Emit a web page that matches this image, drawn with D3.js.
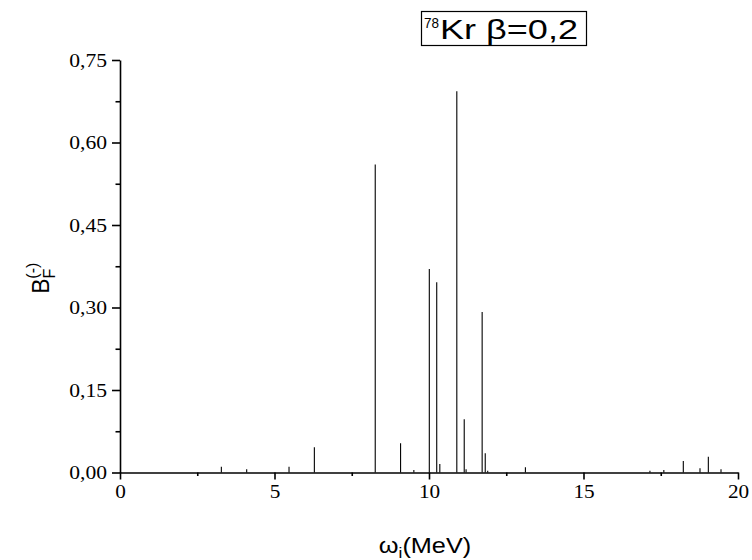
<!DOCTYPE html>
<meta charset="utf-8">
<style>
body { margin: 0; background: #fff; }
svg { display: block; }
.axis path, .axis line { stroke: #000; stroke-width: 1.6px; }
.axis text { font-family: "Liberation Serif", "Times New Roman", serif; font-size: 18px; fill: #000; }
.peak { stroke: #000; stroke-width: 1.1px; }
.lbl { font-family: "Liberation Sans", Arial, sans-serif; fill: #000; }
</style>
<svg width="752" height="560"></svg>
<script src="https://d3js.org/d3.v7.min.js"></script>
<script>

// peak positions (MeV) and strengths
var energies = [3.28, 4.10, 5.47, 6.29, 8.26, 9.08, 9.51, 10.01, 10.25, 10.35, 10.90, 11.14, 11.20,
                11.72, 11.82, 11.90, 13.12, 17.15, 17.60, 18.23, 18.77, 19.04, 19.45];
var strengths = [0.0105, 0.006, 0.0105, 0.046, 0.560, 0.053, 0.0045, 0.370, 0.346, 0.0155, 0.693, 0.097, 0.006,
                 0.292, 0.035, 0.003, 0.0095, 0.003, 0.0045, 0.021, 0.0076, 0.0287, 0.006];
var xTicks = [0, 5, 10, 15, 20];
var xMinor = [2.5, 7.5, 12.5, 17.5];
var yTicks = [0, 0.15, 0.30, 0.45, 0.60, 0.75];
var yMinor = [0.075, 0.225, 0.375, 0.525, 0.675];

var svg = d3.select("svg");
var pl = 120, pr = 738, pt = 60, pb = 472.5;

var x = d3.scaleLinear().domain([0, 20]).range([pl, pr]);
var y = d3.scaleLinear().domain([0, 0.75]).range([pb, pt]);
var fmt = function(d) { return d3.format(".2f")(d).replace(".", ","); };

// minor ticks first so the main axes draw over them
svg.append("g").attr("class", "axis")
    .attr("transform", "translate(0," + pb + ")")
    .call(d3.axisBottom(x).tickValues(xMinor).tickSize(3.5).tickFormat(""))
    .select(".domain").remove();
svg.append("g").attr("class", "axis")
    .attr("transform", "translate(" + pl + ",0)")
    .call(d3.axisLeft(y).tickValues(yMinor).tickSize(4.5).tickFormat(""))
    .select(".domain").remove();

var gx = svg.append("g").attr("class", "axis")
    .attr("transform", "translate(0," + pb + ")")
    .call(d3.axisBottom(x).tickValues(xTicks).tickSize(7).tickSizeOuter(0).tickFormat(d3.format("d")));
gx.selectAll("text").attr("y", 0).attr("dy", 0)
    .attr("transform", "translate(0,25) scale(1.18,1)");

var gy = svg.append("g").attr("class", "axis")
    .attr("transform", "translate(" + pl + ",0)")
    .call(d3.axisLeft(y).tickValues(yTicks).tickSize(8).tickSizeOuter(0).tickFormat(fmt));
gy.selectAll("text").attr("x", 0).attr("dy", "0.34em")
    .attr("transform", "translate(-13,0) scale(1.2,1)");

// peaks
svg.append("g").selectAll("line")
    .data(energies)
    .enter().append("line")
      .attr("class", "peak")
      .attr("x1", function(d) { return x(d); })
      .attr("x2", function(d) { return x(d); })
      .attr("y1", y(0))
      .attr("y2", function(d, i) { return y(strengths[i]); });

// x label
var xl = svg.append("text").attr("class", "lbl")
    .attr("text-anchor", "middle")
    .attr("transform", "translate(" + ((pl + pr) / 2 - 4) + ",553) scale(1.15,1)")
    .style("font-size", "22px");
xl.append("tspan").text("ω");
xl.append("tspan").attr("dy", 5).style("font-size", "15px").text("i");
xl.append("tspan").attr("dy", -5).text("(MeV)");

// y label
var yl = svg.append("text").attr("class", "lbl")
    .attr("text-anchor", "middle")
    .attr("transform", "translate(49," + ((pt + pb) / 2 + 12) + ") rotate(-90)")
    .style("font-size", "23px");
yl.append("tspan").text("B");
yl.append("tspan").attr("dy", 6).style("font-size", "16px").text("F");
yl.append("tspan").attr("dx", -10).attr("dy", -17).style("font-size", "16px").text("(-)");

// title box
svg.append("rect")
    .attr("x", 421.5).attr("y", 11.5).attr("width", 165).attr("height", 34)
    .attr("fill", "#fff").attr("stroke", "#000").attr("stroke-width", 1.2);
svg.append("text").attr("class", "lbl")
    .attr("x", 424).attr("y", 28).style("font-size", "15px")
    .attr("textLength", 15).attr("lengthAdjust", "spacingAndGlyphs")
    .text("78");
svg.append("text").attr("class", "lbl")
    .attr("x", 440).attr("y", 38.5).style("font-size", "28px")
    .attr("textLength", 138).attr("lengthAdjust", "spacingAndGlyphs")
    .text("Kr β=0,2");

</script>
